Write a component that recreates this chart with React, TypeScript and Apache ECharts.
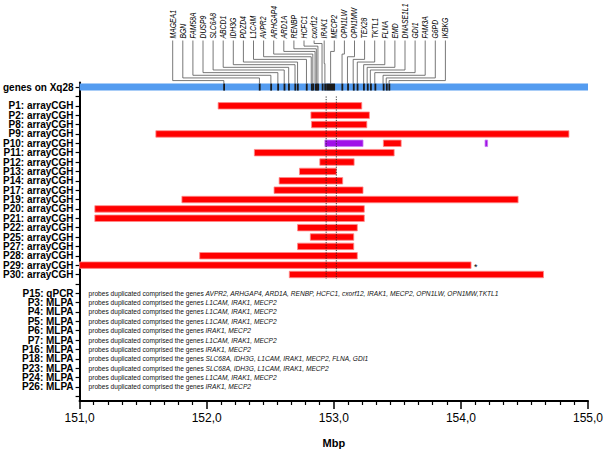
import React, { useEffect, useRef } from "react";
import * as echarts from "echarts";

// ---- data ----
const geneNames = ["MAGEA1","BGN","FAM58A","DUSP9","SLC6A8","ABCD1","IDH3G","PDZD4","L1CAM","AVPR2","ARHGAP4","ARD1A","RENBP","HCFC1","cxorf12","IRAK1","MECP2","OPN1LW","OPN1MW","TEX28","TKTL1","FLNA","EMD","DNASE1L1","GDI1","FAM3A","G6PD","IKBKG"];
const geneStart = [152.13,152.41,152.50,152.555,152.605,152.64,152.69,152.71,152.78,152.82,152.83,152.85,152.86,152.87,152.905,152.925,152.94,153.06,153.105,153.15,153.18,153.23,153.26,153.285,153.32,153.385,153.41,153.43];
const geneEnd   = [152.14,152.42,152.51,152.565,152.615,152.65,152.70,152.72,152.79,152.825,152.84,152.855,152.865,152.88,152.91,152.935,153.01,153.07,153.11,153.155,153.19,153.24,153.265,153.29,153.325,153.39,153.415,153.44];

const cghPatients = ["P1","P2","P8","P9","P10","P11","P12","P13","P14","P17","P19","P20","P21","P22","P25","P27","P28","P29","P30"];
// [patient, start Mbp, end Mbp, kind]  kind 0 = duplication (red), 1 = other (purple)
const cghSegments: [string, number, number, number][] = [
  ["P1", 152.09, 153.22, 0],
  ["P2", 152.82, 153.28, 0],
  ["P8", 152.825, 153.26, 0],
  ["P9", 151.60, 154.85, 0],
  ["P10", 152.93, 153.23, 1],
  ["P10", 153.39, 153.53, 0],
  ["P10", 154.19, 154.21, 1],
  ["P11", 152.375, 153.475, 0],
  ["P12", 152.89, 153.16, 0],
  ["P13", 152.73, 153.02, 0],
  ["P14", 152.57, 153.07, 0],
  ["P17", 152.53, 153.23, 0],
  ["P19", 151.805, 154.45, 0],
  ["P20", 151.12, 153.24, 0],
  ["P21", 151.12, 153.24, 0],
  ["P22", 152.715, 153.185, 0],
  ["P25", 152.815, 153.157, 0],
  ["P27", 152.715, 153.157, 0],
  ["P28", 151.945, 153.185, 0],
  ["P29", 151.0, 154.08, 0],
  ["P30", 152.65, 154.65, 0],
];
const asteriskPatient = "P29";

const noteLabels = ["P15: qPCR","P3: MLPA","P4: MLPA","P5: MLPA","P6: MLPA","P7: MLPA","P16: MLPA","P18: MLPA","P23: MLPA","P24: MLPA","P26: MLPA"];
const noteGenes = [
  "AVPR2, ARHGAP4, ARD1A, RENBP, HCFC1, cxorf12, IRAK1, MECP2, OPN1LW, OPN1MW,TKTL1",
  "L1CAM, IRAK1, MECP2",
  "L1CAM, IRAK1, MECP2",
  "L1CAM, IRAK1, MECP2",
  "IRAK1, MECP2",
  "L1CAM, IRAK1, MECP2",
  "IRAK1, MECP2",
  "SLC68A, IDH3G, L1CAM, IRAK1, MECP2, FLNA, GDI1",
  "SLC68A, IDH3G, L1CAM, IRAK1, MECP2",
  "L1CAM, IRAK1, MECP2",
  "IRAK1, MECP2",
];
const notePrefix = "probes duplicated comprised the genes ";

const regionStart = 151.0;
const regionEnd = 155.0;
const mecp2Bounds = [152.94, 153.02];
const xTicks = [151, 152, 153, 154, 155];

const geneRowLabel = "genes on Xq28";
const rowLabels = [
  geneRowLabel,
  "_1",
  ...cghPatients.map((p) => p + ": arrayCGH"),
  "_2",
  ...noteLabels,
  "_3",
];

const RED = "#ff0000";
const RED_EDGE = "#ff8a8a";
const PURPLE = "#a010e8";
const PURPLE_EDGE = "#c878f0";
const BLUE = "#549cf0";

export default function App() {
  const ref = useRef<HTMLDivElement>(null);
  useEffect(() => {
    document.body.style.margin = "0";
    const chart = echarts.init(ref.current!, null, { renderer: "svg" });
    const font = "Liberation Sans, Arial, sans-serif";

    const labelX0 = 172.7;
    const labelStep = 10.1;
    const labelBottom = 38.5;
    const levelStep = 2.65;

    const option: any = {
      animation: false,
      grid: { left: 78, right: 21, top: 82.4, bottom: 57, containLabel: false },
      xAxis: {
        type: "value",
        min: regionStart,
        max: regionEnd,
        interval: 1,
        name: "Mbp",
        nameLocation: "middle",
        nameGap: 36,
        nameTextStyle: { fontFamily: font, fontWeight: "bold", fontSize: 11, color: "#000" },
        axisLine: { show: true, lineStyle: { color: "#000", width: 2 } },
        axisTick: { show: true, length: 8, lineStyle: { color: "#000", width: 1.5 } },
        minorTick: { show: true, splitNumber: 9, length: 4, lineStyle: { color: "#000", width: 1.2 } },
        splitLine: { show: false },
        axisLabel: {
          fontFamily: font,
          fontSize: 12,
          color: "#000",
          margin: 11,
          formatter: (v: number) => (xTicks.includes(v) ? v.toFixed(1).replace(".", ",") : ""),
        },
      },
      yAxis: {
        type: "category",
        data: rowLabels,
        inverse: true,
        boundaryGap: true,
        axisLine: { show: true, lineStyle: { color: "#000", width: 2 } },
        axisTick: { show: true, alignWithLabel: true, length: 4, interval: 0, lineStyle: { color: "#000", width: 1.2 } },
        splitLine: { show: false },
        axisLabel: {
          interval: 0,
          fontFamily: font,
          fontSize: 10,
          lineHeight: 9,
          fontWeight: "bold",
          color: "#000",
          margin: 6,
          formatter: (v: string) => (v.startsWith("_") ? "" : v),
        },
      },
      series: [
        // blue chromosome region bar
        {
          type: "custom",
          encode: { x: [0, 1], y: 2 },
          data: [[regionStart, regionEnd, 0]],
          renderItem: (params: any, api: any) => {
            const s = api.coord([api.value(0), api.value(2)]);
            const e = api.coord([api.value(1), api.value(2)]);
            const h = 7;
            return { type: "rect", shape: { x: s[0], y: s[1] - h / 2, width: e[0] - s[0], height: h }, style: { fill: BLUE } };
          },
        },
        // gene ticks on blue bar
        {
          type: "custom",
          encode: { x: [0, 1], y: 2 },
          data: geneNames.map((g, i) => [geneStart[i], geneEnd[i], 0]),
          renderItem: (params: any, api: any) => {
            const s = api.coord([api.value(0), api.value(2)]);
            const e = api.coord([api.value(1), api.value(2)]);
            const h = 7;
            const w = Math.max(1.8, e[0] - s[0]);
            return { type: "rect", shape: { x: s[0], y: s[1] - h / 2, width: w, height: h }, style: { fill: "#1a1a1a" } };
          },
        },
        // gene labels + leader lines
        {
          type: "custom",
          encode: { x: [0, 1], y: 2 },
          data: geneNames.map((g, i) => [geneStart[i], geneEnd[i], i]),
          renderItem: (params: any, api: any) => {
            const i = api.value(2);
            const mid = (api.value(0) + api.value(1)) / 2;
            const p = api.coord([mid, 0]);
            const barTop = p[1] - 3.5;
            const gx = p[0];
            const lx = labelX0 + labelStep * i;
            const irak = geneNames.indexOf("IRAK1");
            let level: number;
            if (i < irak) level = barTop - 3 - i * levelStep;
            else if (i === irak) level = barTop - 20;
            else level = barTop - 3 - (geneNames.length - 1 - i) * levelStep;
            return {
              type: "group",
              children: [
                {
                  type: "polyline",
                  shape: { points: [[lx, labelBottom + 2], [lx, level], [gx, level], [gx, barTop]] },
                  style: { stroke: "#555", lineWidth: 0.8, fill: null },
                },
                {
                  type: "text",
                  x: lx,
                  y: labelBottom,
                  rotation: Math.PI / 2,
                  scaleX: 0.76,
                  style: {
                    text: geneNames[i],
                    fontFamily: font,
                    fontStyle: "italic",
                    fontSize: 9,
                    fill: "#000",
                    align: "left",
                    verticalAlign: "middle",
                  },
                },
              ],
            };
          },
        },
        // arrayCGH segments
        {
          type: "custom",
          encode: { x: [0, 1], y: 2 },
          data: cghSegments.map((s) => [s[1], s[2], rowLabels.indexOf(s[0] + ": arrayCGH"), s[3]]),
          renderItem: (params: any, api: any) => {
            const row = api.value(2);
            const s = api.coord([api.value(0), row]);
            const e = api.coord([api.value(1), row]);
            const h = 6.5;
            const kind = api.value(3);
            return {
              type: "rect",
              shape: { x: s[0], y: s[1] - h / 2, width: e[0] - s[0], height: h },
              style: { fill: kind === 1 ? PURPLE : RED, stroke: kind === 1 ? PURPLE_EDGE : RED_EDGE, lineWidth: 0.8 },
            };
          },
        },
        // asterisk
        {
          type: "custom",
          encode: { x: 0, y: 1 },
          data: cghSegments
            .filter((s) => s[0] === asteriskPatient)
            .map((s) => [s[2], rowLabels.indexOf(s[0] + ": arrayCGH")]),
          renderItem: (params: any, api: any) => {
            const p = api.coord([api.value(0), api.value(1)]);
            return {
              type: "text",
              x: p[0] + 3,
              y: p[1] + 1.5,
              style: { text: "*", fontFamily: font, fontSize: 9, fill: "#000", align: "left", verticalAlign: "middle" },
            };
          },
        },
        // MECP2 dotted boundary lines
        {
          type: "custom",
          encode: { x: 0 },
          data: mecp2Bounds.map((b) => [b]),
          renderItem: (params: any, api: any) => {
            const top = api.coord([api.value(0), rowLabels.indexOf("_1")]);
            const bot = api.coord([api.value(0), rowLabels.indexOf(cghPatients[cghPatients.length - 1] + ": arrayCGH")]);
            return {
              type: "line",
              shape: { x1: top[0], y1: top[1], x2: bot[0], y2: bot[1] + 4.5 },
              style: { stroke: "#222", lineWidth: 0.9, lineDash: [1.2, 1.4] },
            };
          },
        },
        // qPCR / MLPA notes
        {
          type: "custom",
          encode: { x: 0, y: 1 },
          data: noteLabels.map((l, i) => [regionStart, rowLabels.indexOf(l), i]),
          renderItem: (params: any, api: any) => {
            const p = api.coord([api.value(0), api.value(1)]);
            const i = api.value(2);
            return {
              type: "text",
              x: p[0] + 9,
              y: p[1],
              style: {
                text: "{a|" + notePrefix + "}{b|" + noteGenes[i] + "}",
                verticalAlign: "middle",
                align: "left",
                rich: {
                  a: { fontFamily: font, fontSize: 6.6, fill: "#111", color: "#111" },
                  b: { fontFamily: font, fontSize: 6.6, fontStyle: "italic", fill: "#111", color: "#111" },
                },
              },
            };
          },
        },
      ],
    };
    chart.setOption(option);
    return () => chart.dispose();
  }, []);
  return <div ref={ref} style={{ width: 609, height: 458 }} />;
}
